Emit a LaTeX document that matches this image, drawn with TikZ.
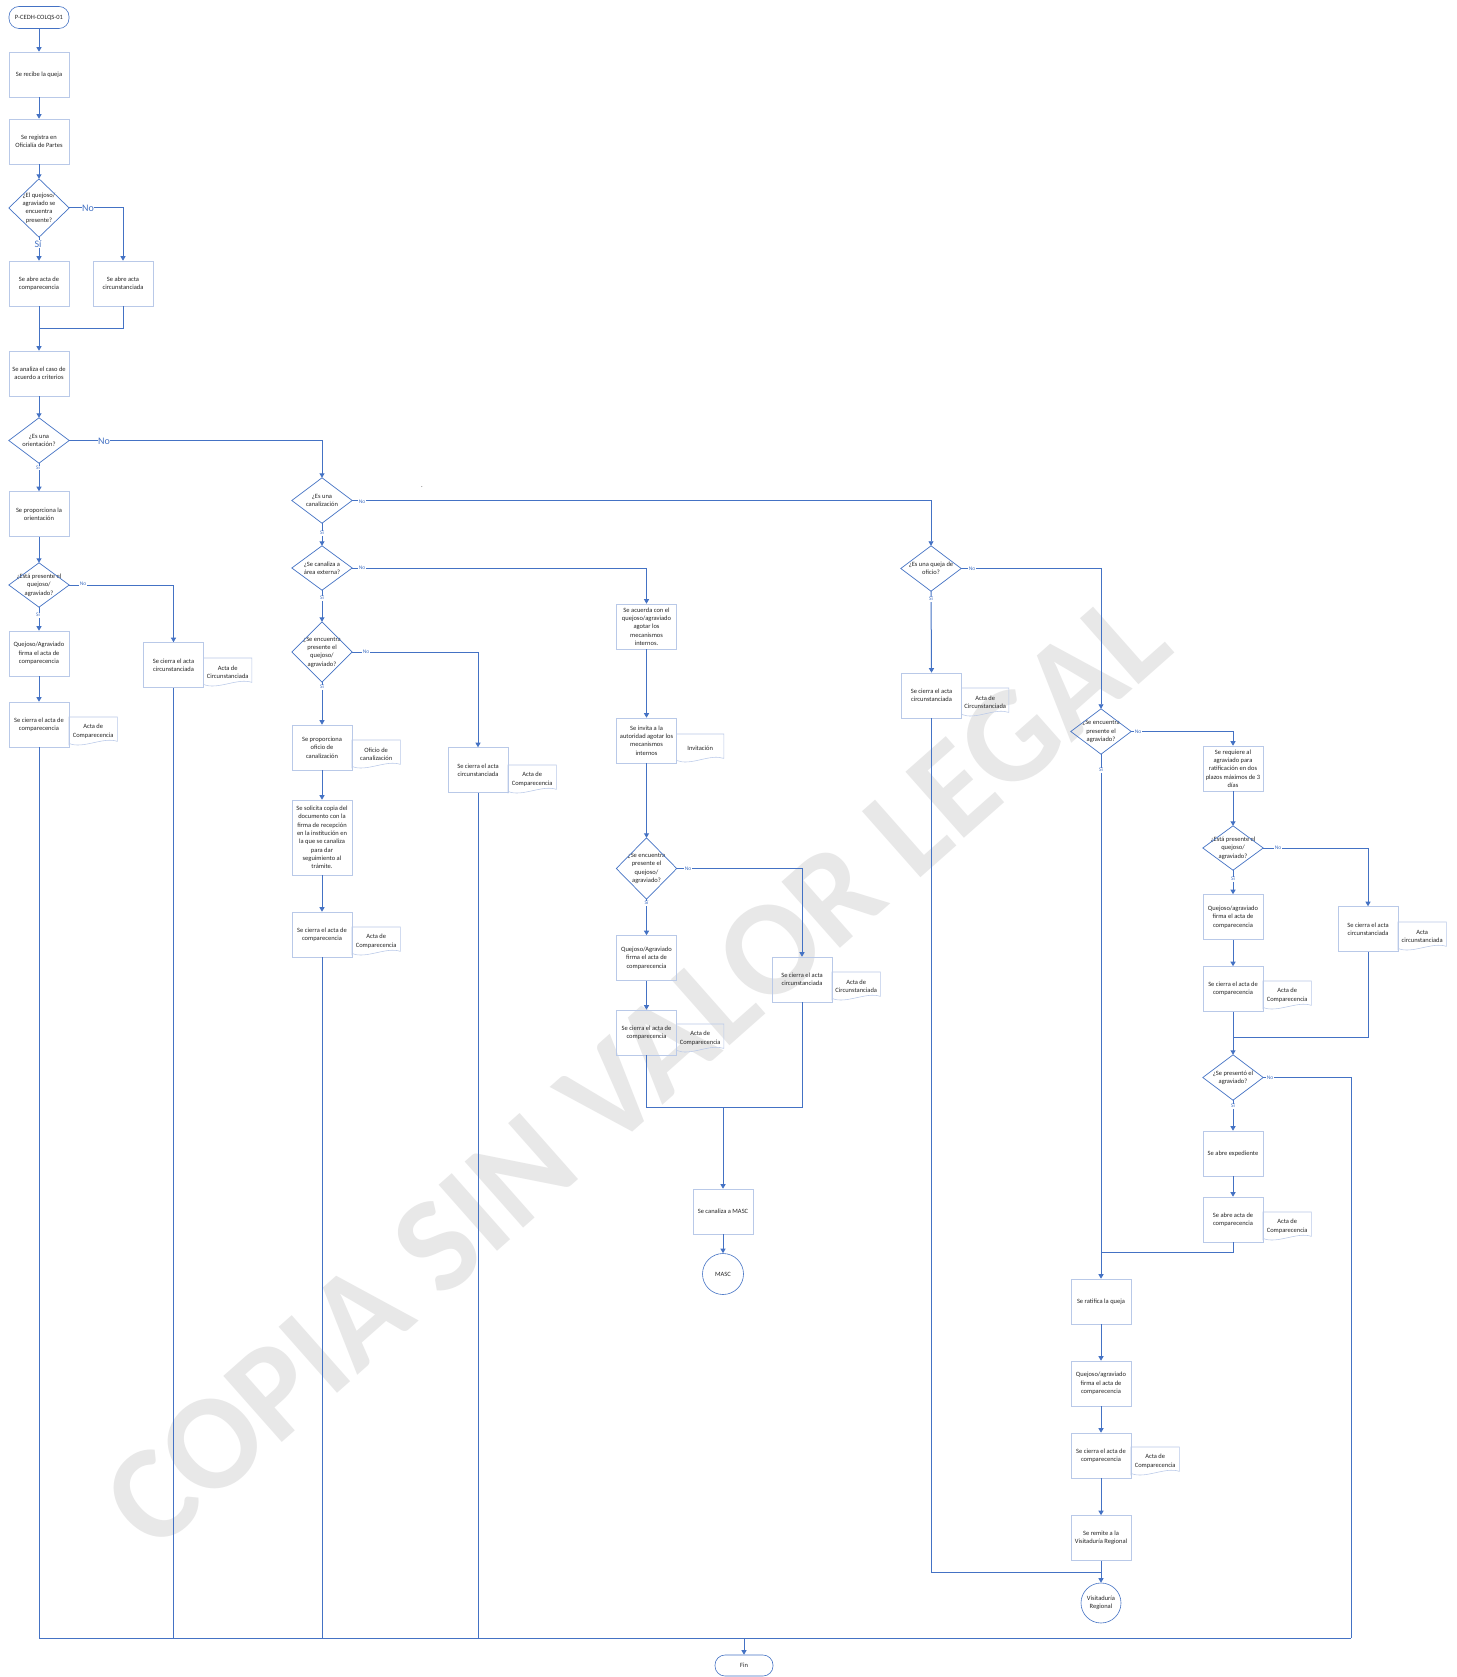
\documentclass[tikz,border=0pt]{standalone}
\usepackage{fontspec}
\setmainfont{Carlito}
\usetikzlibrary{arrows.meta}
\definecolor{cline}{HTML}{4472C4}
\definecolor{cbox}{HTML}{B9C9E8}
\definecolor{ctext}{HTML}{262626}
\definecolor{cwm}{HTML}{E8E8E8}
\tikzset{
  x=1pt, y=-1pt,
  txt/.style={text=ctext, font=\fontsize{6.5}{8.3}\selectfont, align=center},
  box/.style={txt, draw=cbox, line width=0.55pt, minimum width=60pt, minimum height=45pt, inner sep=1pt},
  dec/.style={txt, minimum width=60pt, minimum height=#1, inner sep=0pt},
  docnode/.style={txt, minimum width=48pt, minimum height=28pt, inner sep=1pt, anchor=north west},
  term/.style={txt, draw=cline, line width=0.6pt, rounded corners=10pt, minimum width=60pt, minimum height=22pt, inner sep=1pt},
  circ/.style={txt, circle, draw=cline, line width=0.6pt, minimum size=#1, inner sep=0pt},
  conn/.style={draw=cline, line width=1.0pt},
  arr/.style={conn, -{Triangle[width=5pt,length=4.5pt]}},
  thin/.style={line width=0.7pt},
  lbl/.style={text=cline, fill=white, inner sep=0.6pt, font=\fontsize{5.5}{6}\selectfont},
  lblbig/.style={text=cline, fill=white, inner sep=0.6pt, font=\fontsize{10}{11}\selectfont},
}
\begin{document}
\begin{tikzpicture}
\useasboundingbox[fill=white] (0,0) rectangle (1456,1677);
% watermark
\node[rotate=41.5, text=cwm, font=\fontsize{136}{136}\selectfont\bfseries, inner sep=0pt] (wm) at (636,1070) {COPIA SIN VALOR LEGAL};

% ---------- column 1
\node[term] (start) at (39,17.5) {P-CEDH-COLQS-01};
\node[box] (b1) at (39,74.5) {Se recibe la queja};
\node[box] (b2) at (39,141.5) {Se registra en\\Oficialía de Partes};
\node[dec=58pt] (q1) at (39,208) {¿El quejoso/\\agraviado se\\encuentra\\presente?};
\node[box] (b3) at (39,283.5) {Se abre acta de\\comparecencia};
\node[box] (b4) at (123,283.5) {Se abre acta\\circunstanciada};
\node[box] (b5) at (39,373.5) {Se analiza el caso de\\acuerdo a criterios};
\node[dec=45pt] (q2) at (39,440.5) {¿Es una\\orientación?};
\node[box] (b6) at (39,514) {Se proporciona la\\orientación};
\node[dec=44pt] (q4) at (39,585) {¿Está presente el\\quejoso/\\agraviado?};
\node[box] (b7) at (39,653.5) {Quejoso/Agraviado\\firma el acta de\\comparecencia};
\node[box] (b8) at (39,724.5) {Se cierra el acta de\\comparecencia};
\node[docnode] (d1) at (69,717) {Acta de\\Comparecencia};
\node[box] (b9) at (173.5,665) {Se cierra el acta\\circunstanciada};
\node[docnode] (d2) at (203.5,658) {Acta de\\Circunstanciada};

% ---------- column 2
\node[dec=45pt] (q3) at (322,500.5) {¿Es una\\canalización};
\node[dec=44pt] (q5) at (322,568) {¿Se canaliza a\\área externa?};
\node[dec=60pt] (q6) at (322,652) {¿Se encuentra\\presente el\\quejoso/\\agraviado?};
\node[box] (b10) at (322,747.5) {Se proporciona\\oficio de\\canalización};
\node[docnode] (d3) at (352,740) {Oficio de\\canalización};
\node[box, minimum height=75pt] (b11) at (322,837.5) {Se solicita copia del\\documento con la\\firma de recepción\\en la institución en\\la que se canaliza\\para dar\\seguimiento al\\trámite.};
\node[box] (b12) at (322,934.5) {Se cierra el acta de\\comparecencia};
\node[docnode] (d4) at (352,927) {Acta de\\Comparecencia};
\node[box] (b13) at (478,770) {Se cierra el acta\\circunstanciada};
\node[docnode] (d5) at (508,765) {Acta de\\Comparecencia};
\node[txt] (dot) at (422,487) {.};

% ---------- column 3
\node[box] (b14) at (646.5,626.5) {Se acuerda con el\\quejoso/agraviado\\agotar los\\mecanismos\\internos.};
\node[box] (b15) at (646.5,740.5) {Se invita a la\\autoridad agotar los\\mecanismos\\internos};
\node[docnode, minimum width=47pt] (d6) at (676.5,734) {Invitación};
\node[dec=61pt] (q7) at (646.5,868.5) {¿Se encuentra\\presente el\\quejoso/\\agraviado?};
\node[box] (b16) at (646.5,958) {Quejoso/Agraviado\\firma el acta de\\comparecencia};
\node[box] (b17) at (646.5,1032.5) {Se cierra el acta de\\comparecencia};
\node[docnode, minimum width=47pt] (d7) at (676.5,1024) {Acta de\\Comparecencia};
\node[box] (b18) at (802,979.5) {Se cierra el acta\\circunstanciada};
\node[docnode] (d8) at (832,972) {Acta de\\Circunstanciada};
\node[box] (b19) at (723,1211.5) {Se canaliza a MASC};
\node[circ=41pt] (c1) at (723,1274) {MASC};

% ---------- column 4
\node[dec=45pt] (q11) at (931,568.5) {¿Es una queja de\\oficio?};
\node[box] (b20) at (931.5,695.5) {Se cierra el acta\\circunstanciada};
\node[docnode, minimum width=47pt] (d9) at (961.5,688) {Acta de\\Circunstanciada};
\node[dec=45pt] (q8) at (1101,731.5) {¿Se encuentra\\presente el\\agraviado?};
\node[box] (b21) at (1233,768.5) {Se requiere al\\agraviado para\\ratificación en dos\\plazos máximos de 3\\días};
\node[dec=44pt] (q9) at (1233,848) {¿Está presente el\\quejoso/\\agraviado?};
\node[box] (b22) at (1233,917) {Quejoso/agraviado\\firma el acta de\\comparecencia};
\node[box] (b23) at (1368,929) {Se cierra el acta\\circunstanciada};
\node[docnode] (d10) at (1398,922) {Acta\\circunstanciada};
\node[box] (b24) at (1233,989) {Se cierra el acta de\\comparecencia};
\node[docnode] (d11) at (1263,981) {Acta de\\Comparecencia};
\node[dec=45pt] (q10) at (1233,1077.5) {¿Se presentó el\\agraviado?};
\node[box] (b25) at (1233,1153.5) {Se abre expediente};
\node[box] (b26) at (1233,1219.5) {Se abre acta de\\comparecencia};
\node[docnode] (d12) at (1263,1212) {Acta de\\Comparecencia};
\node[box] (b27) at (1101,1301.5) {Se ratifica la queja};
\node[box] (b28) at (1101,1383.5) {Quejoso/agraviado\\firma el acta de\\comparecencia};
\node[box] (b29) at (1101,1455.5) {Se cierra el acta de\\comparecencia};
\node[docnode] (d13) at (1131,1447) {Acta de\\Comparecencia};
\node[box] (b30) at (1101,1538) {Se remite a la\\Visitaduría Regional};
\node[circ=40pt] (c2) at (1101,1603) {Visitaduría\\Regional};
\node[term, minimum width=58pt, minimum height=21pt] (fin) at (744,1665.5) {Fin};

% diamonds
\foreach \n in {q1,q2,q3,q4,q5,q6,q7,q8,q9,q10,q11}
  \draw[draw=cline, line width=0.7pt] (\n.north) -- (\n.east) -- (\n.south) -- (\n.west) -- cycle;
% documents
\foreach \n in {d1,d2,d3,d4,d5,d6,d7,d8,d9,d10,d11,d12,d13}
  \draw[draw=cbox, line width=0.55pt] (\n.south west) -- (\n.north west) -- (\n.north east) -- ([yshift=4pt]\n.south east) .. controls +(-14,-5) and +(14,6) .. ([yshift=2pt]\n.south west);

% coordinates
\coordinate (m1) at (39,328);
\coordinate (m2) at (723,1107);
\coordinate (m3) at (1101,1572);
\coordinate (m4) at (1233,1037);
\coordinate (m5) at (1101,1252);
\coordinate (bl) at (39,1638);
\coordinate (br) at (1351,1638);

% ---------- connectors column 1
\draw[arr] (start) -- (b1);
\draw[arr] (b1) -- (b2);
\draw[arr] (b2) -- (q1);
\draw[arr] (q1.south) -- (b3.north);
\draw[arr] (q1.east) -| (b4.north);
\draw[conn] (b4.south) |- (m1);
\draw[arr] (b3.south) -- (b5.north);
\draw[arr] (b5) -- (q2);
\draw[arr] (q2.south) -- (b6.north);
\draw[arr] (q2.east) -| (q3.north);
\draw[arr] (b6) -- (q4);
\draw[arr] (q4.south) -- (b7.north);
\draw[arr, thin] (q4.east) -| (b9.north);
\draw[arr] (b7) -- (b8);
% ---------- column 2
\draw[arr] (q3.south) -- (q5.north);
\draw[arr, thin] (q3.east) -| (q11.north);
\draw[arr] (q5.south) -- (q6.north);
\draw[arr, thin] (q5.east) -| (b14.north);
\draw[arr] (q6.south) -- (b10.north);
\draw[arr, thin] (q6.east) -| (b13.north);
\draw[arr] (b10) -- (b11);
\draw[arr] (b11) -- (b12);
% ---------- column 3
\draw[arr] (b14) -- (b15);
\draw[arr] (b15) -- (q7);
\draw[arr] (q7.south) -- (b16.north);
\draw[arr, thin] (q7.east) -| (b18.north);
\draw[arr] (b16) -- (b17);
\draw[conn] (b17.south) |- (m2) -| (b18.south);
\draw[arr] (m2) -- (b19.north);
\draw[arr] (b19) -- (c1);
% ---------- column 4
\draw[arr] (q11.south) -- (b20.north);
\draw[arr, thin] (q11.east) -| (q8.north);
\draw[conn] (b20.south) |- (m3);
\draw[arr] (q8.south) -- (b27.north);
\draw[arr, thin] (q8.east) -| (b21.north);
\draw[arr] (b21) -- (q9);
\draw[arr] (q9.south) -- (b22.north);
\draw[arr, thin] (q9.east) -| (b23.north);
\draw[arr] (b22) -- (b24);
\draw[conn] (b23.south) |- (m4);
\draw[arr] (b24.south) -- (q10.north);
\draw[arr] (q10.south) -- (b25.north);
\draw[arr] (b25) -- (b26);
\draw[conn] (b26.south) |- (m5);
\draw[arr] (b27) -- (b28);
\draw[arr] (b28) -- (b29);
\draw[arr] (b29) -- (b30);
\draw[arr] (b30) -- (c2);
% ---------- bottom
\draw[conn] (b8.south) -- (bl) -- (br);
\draw[conn, thin] (br) |- (q10.east);
\draw[conn] (b9.south) -- (b9.south |- bl);
\draw[conn] (b12.south) -- (b12.south |- bl);
\draw[conn] (b13.south) -- (b13.south |- bl);
\draw[arr] (fin.north |- bl) -- (fin.north);

% ---------- labels
\node[lblbig] (l1) at (88,208) {No};
\node[lblbig] (l2) at (38,244) {Sí};
\node[lblbig] (l3) at (104,441) {No};
\node[lbl] (l4) at (38,468) {Sí};
\node[lbl] (l5) at (83,584) {No};
\node[lbl] (l6) at (38,615) {Sí};
\node[lbl] (l7) at (362,502) {No};
\node[lbl] (l8) at (322,533) {Sí};
\node[lbl] (l9) at (362,568) {No};
\node[lbl] (l10) at (322,598) {Sí};
\node[lbl] (l11) at (366,652) {No};
\node[lbl] (l12) at (322,687) {Sí};
\node[lbl] (l13) at (688,869) {No};
\node[lbl] (l14) at (646.5,903) {Sí};
\node[lbl] (l15) at (972,568.5) {No};
\node[lbl] (l16) at (931,599) {Sí};
\node[lbl] (l17) at (1138,731.5) {No};
\node[lbl] (l18) at (1101,770) {Sí};
\node[lbl] (l19) at (1278,848) {No};
\node[lbl] (l20) at (1233,879) {Sí};
\node[lbl] (l21) at (1270,1077.5) {No};
\node[lbl] (l22) at (1233,1106) {Sí};
\end{tikzpicture}
\end{document}
